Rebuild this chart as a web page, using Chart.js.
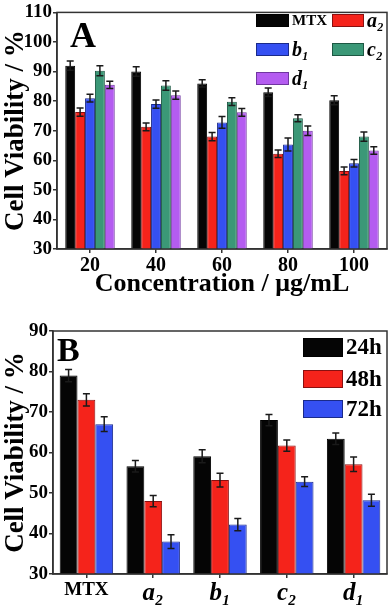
<!DOCTYPE html>
<html>
<head>
<meta charset="utf-8">
<script src="https://cdn.jsdelivr.net/npm/chart.js@4.4.1/dist/chart.umd.min.js"></script>
<style>
    html, body { margin: 0; padding: 0; background: #fff; }
    .panel { position: relative; width: 392px; height: 306px; }
</style>
</head>
<body>
<div class="panel"><canvas id="chartA"></canvas></div>
<div class="panel"><canvas id="chartB"></canvas></div>
<script>
// Panel A data: viability vs concentration
const concLabels = ['20', '40', '60', '80', '100'];
const mtxA = [92.0, 90.0, 86.0, 83.0, 80.3];
const a2A  = [76.3, 71.3, 68.0, 62.2, 56.4];
const b1A  = [81.0, 79.0, 72.8, 65.3, 59.0];
const c2A  = [90.3, 85.3, 79.8, 74.2, 68.0];
const d1A  = [85.5, 82.0, 76.2, 70.0, 63.3];
const mtxAErr = [1.6, 1.6, 1.2, 1.4, 1.5];
const a2AErr  = [1.4, 1.3, 1.4, 1.3, 1.3];
const b1AErr  = [1.3, 1.4, 2.0, 2.2, 1.3];
const c2AErr  = [1.7, 1.6, 1.3, 1.2, 1.6];
const d1AErr  = [1.2, 1.4, 1.3, 1.6, 1.3];

// Panel B data: viability vs time per compound
const compoundLabels = ['MTX', 'a₂', 'b₁', 'c₂', 'd₁'];
const h24 = [79.0, 56.6, 59.1, 68.0, 63.4];
const h48 = [73.0, 48.0, 53.2, 61.7, 57.1];
const h72 = [67.0, 38.0, 42.2, 52.8, 48.2];
const h24Err = [1.5, 1.4, 1.6, 1.4, 1.4];
const h48Err = [1.5, 1.4, 1.7, 1.4, 1.8];
const h72Err = [1.8, 1.7, 1.5, 1.2, 1.5];

const SERIF = '"Liberation Serif", "Times New Roman", serif';
const AXIS = '#333';

const COL = {
    black:  { fill: '#050505', line: '#000000' },
    red:    { fill: '#f5231b', line: '#8a1010' },
    blue:   { fill: '#3550f2', line: '#1a2a8a' },
    green:  { fill: '#3b9877', line: '#1d5843' },
    purple: { fill: '#b45cf0', line: '#7036a0' }
};

function ds(label, data, err, c) {
    return {
        label: label,
        data: data,
        err: err,
        backgroundColor: c.fill,
        borderColor: c.line,
        borderWidth: 1
    };
}

// error bars, drawn from the dataset's err array through the y scale
const errorBars = {
    id: 'errorBars',
    afterDatasetsDraw(chart) {
        const ctx = chart.ctx;
        const y = chart.scales.y;
        ctx.save();
        ctx.strokeStyle = '#1a1a1a';
        ctx.lineWidth = 1.5;
        chart.data.datasets.forEach((d, i) => {
            const meta = chart.getDatasetMeta(i);
            meta.data.forEach((bar, j) => {
                const v = d.data[j], e = d.err[j];
                const top = y.getPixelForValue(v + e);
                const bot = y.getPixelForValue(v - e);
                ctx.beginPath();
                ctx.moveTo(bar.x, top); ctx.lineTo(bar.x, bot);
                ctx.moveTo(bar.x - 3.5, top); ctx.lineTo(bar.x + 3.5, top);
                ctx.moveTo(bar.x - 3.5, bot); ctx.lineTo(bar.x + 3.5, bot);
                ctx.stroke();
            });
        });
        ctx.restore();
    }
};

// top/right frame + panel letter + custom legend
const frame = {
    id: 'frame',
    afterDraw(chart, args, opts) {
        const ctx = chart.ctx;
        const a = chart.chartArea;
        ctx.save();
        ctx.strokeStyle = AXIS;
        ctx.lineWidth = 1.5;
        ctx.strokeRect(a.left, a.top, a.right - a.left, a.bottom - a.top);

        ctx.fillStyle = '#000';
        ctx.font = 'bold ' + opts.letterSize + 'px ' + SERIF;
        ctx.textBaseline = 'alphabetic';
        ctx.fillText(opts.letter, a.left + opts.letterX, a.top + opts.letterY);

        opts.items.forEach(it => {
            const d = chart.data.datasets[it.ds];
            ctx.fillStyle = d.backgroundColor;
            ctx.strokeStyle = d.borderColor;
            ctx.lineWidth = 1;
            ctx.fillRect(it.x, it.y, it.w, it.h);
            ctx.strokeRect(it.x + 0.5, it.y + 0.5, it.w - 1, it.h - 1);
            ctx.fillStyle = '#000';
            ctx.font = (it.italic ? 'italic ' : '') + 'bold ' + it.size + 'px ' + SERIF;
            ctx.textBaseline = 'middle';
            ctx.fillText(d.label, it.x + it.w + 3, it.y + it.h / 2 + 1);
        });
        ctx.restore();
    }
};

function axes(yMin, yMax, yWidth, xHeight, xTitle, tickFont) {
    const x = {
        afterFit: s => { s.height = xHeight; },
        grid: { drawOnChartArea: false, offset: false, tickLength: 4, color: AXIS, lineWidth: 1.5 },
        border: { color: AXIS, width: 1.5 },
        ticks: { color: '#000', padding: 1, font: tickFont }
    };
    if (xTitle) {
        x.title = {
            display: true, text: xTitle, color: '#000',
            font: { family: SERIF, size: 26, weight: 'bold' },
            padding: { top: 0, bottom: 6 }
        };
    }
    return {
        x: x,
        y: {
            min: yMin, max: yMax,
            afterFit: s => { s.width = yWidth; },
            grid: { drawOnChartArea: false, tickLength: 4, color: AXIS, lineWidth: 1.5 },
            border: { color: AXIS, width: 1.5 },
            ticks: { stepSize: 10, color: '#000', padding: 1, font: { family: SERIF, size: 19, weight: 'bold' } },
            title: {
                display: true, text: 'Cell Viability / %', color: '#000',
                font: { family: SERIF, size: 27, weight: 'bold' },
                padding: { top: 0, bottom: 0 }
            }
        }
    };
}

new Chart(document.getElementById('chartA'), {
    type: 'bar',
    data: {
        labels: concLabels,
        datasets: [
            ds('MTX', mtxA, mtxAErr, COL.black),
            ds('a₂', a2A, a2AErr, COL.red),
            ds('b₁', b1A, b1AErr, COL.blue),
            ds('c₂', c2A, c2AErr, COL.green),
            ds('d₁', d1A, d1AErr, COL.purple)
        ]
    },
    options: {
        responsive: true,
        maintainAspectRatio: false,
        animation: false,
        layout: { padding: { top: 10, right: 5, left: 0, bottom: 0 } },
        datasets: { bar: { barPercentage: 1, categoryPercentage: 0.75 } },
        scales: axes(30, 110, 57, 57, 'Concentration / μg/mL', { family: SERIF, size: 20, weight: 'bold' }),
        plugins: {
            legend: { display: false },
            tooltip: { enabled: false },
            frame: {
                letter: 'A', letterSize: 36, letterX: 13, letterY: 35,
                items: [
                    { ds: 0, x: 256, y: 14, w: 33, h: 13, size: 15 },
                    { ds: 1, x: 332, y: 14, w: 32, h: 13, size: 20, italic: true },
                    { ds: 2, x: 256, y: 43, w: 33, h: 13, size: 20, italic: true },
                    { ds: 3, x: 332, y: 43, w: 32, h: 13, size: 20, italic: true },
                    { ds: 4, x: 256, y: 72, w: 33, h: 13, size: 20, italic: true }
                ]
            }
        }
    },
    plugins: [errorBars, frame]
});

new Chart(document.getElementById('chartB'), {
    type: 'bar',
    data: {
        labels: compoundLabels,
        datasets: [
            ds('24h', h24, h24Err, COL.black),
            ds('48h', h48, h48Err, COL.red),
            ds('72h', h72, h72Err, COL.blue)
        ]
    },
    options: {
        responsive: true,
        maintainAspectRatio: false,
        animation: false,
        layout: { padding: { top: 25, right: 5, left: 0, bottom: 0 } },
        datasets: { bar: { barPercentage: 1, categoryPercentage: 0.8 } },
        scales: axes(30, 90, 53, 38, null, c => c.index === 0
            ? { family: SERIF, size: 19, weight: 'bold' }
            : { family: SERIF, size: 25, weight: 'bold', style: 'italic' }),
        plugins: {
            legend: { display: false },
            tooltip: { enabled: false },
            frame: {
                letter: 'B', letterSize: 34, letterX: 4, letterY: 30,
                items: [
                    { ds: 0, x: 303, y: 32, w: 40, h: 19, size: 23 },
                    { ds: 1, x: 303, y: 64, w: 40, h: 18, size: 23 },
                    { ds: 2, x: 303, y: 94, w: 40, h: 18, size: 23 }
                ]
            }
        }
    },
    plugins: [errorBars, frame]
});
</script>
</body>
</html>
